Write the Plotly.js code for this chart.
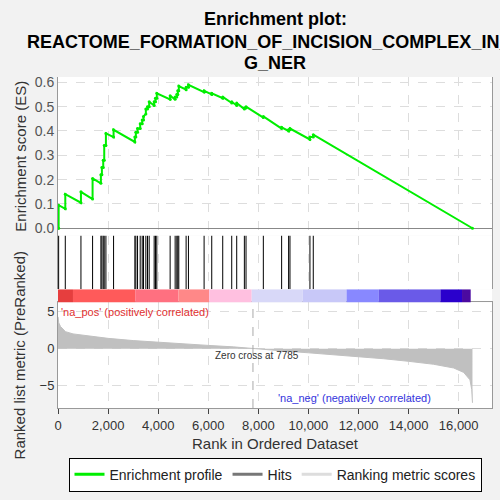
<!DOCTYPE html>
<html><head><script src="https://cdn.plot.ly/plotly-3.0.1.min.js"></script>
<style>body{margin:0;background:#f2f2f2}</style></head><body>
<div id="g" style="width:500px;height:500px"></div>
<script>
const hitRanks=[25,291,916,1381,1713,1753,1806,1846,1913,2219,3069,3109,3176,3282,3362,3415,3508,3574,3641,3840,3893,3946,4478,4678,4744,4784,4824,5116,5209,5834,6139,6578,6937,7136,7442,7508,8199,8930,9209,9263,10060,10193];
const esBefore=[0,0.08,0.105,0.12,0.185,0.22,0.25,0.28,0.34,0.375,0.355,0.375,0.395,0.41,0.43,0.445,0.47,0.49,0.5,0.505,0.52,0.535,0.53,0.53,0.54,0.55,0.565,0.57,0.58,0.56,0.55,0.535,0.515,0.505,0.49,0.495,0.455,0.41,0.4,0.405,0.365,0.375];
const esAfter=[0.095,0.14,0.15,0.205,0.22,0.25,0.28,0.34,0.39,0.405,0.375,0.395,0.41,0.43,0.445,0.46,0.49,0.5,0.52,0.52,0.535,0.555,0.545,0.54,0.55,0.565,0.585,0.58,0.59,0.565,0.555,0.54,0.52,0.515,0.495,0.5,0.46,0.415,0.405,0.41,0.375,0.385];
const nGenes=16550, zeroCross=7785;
const metricRank=[0,30,100,200,300,600,1000,2000,3000,4000,5000,6000,7000,7785,9000,10000,11000,12000,13000,14000,15000,15800,16200,16450,16520,16550];
const metricVal=[4.3,3.5,3.0,2.6,2.3,2.0,1.8,1.4,1.1,0.85,0.65,0.45,0.25,0,-0.3,-0.55,-0.8,-1.05,-1.35,-1.7,-2.1,-2.6,-3.2,-4.2,-5.5,-7.3];
const barEdges=[0,598,3083,4811,6034,7735,9768,11523,12812,15270,16133,16479,16550];
const barColors=['#e63e3e','#ff5a5a','#ff7080','#ff8888','#ffc0e0','#d8d8f8','#c8c8f8','#8888ff','#6a5ae8','#2a00cc','#4b0aa0'];
const titleLines=['Enrichment plot:','REACTOME_FORMATION_OF_INCISION_COMPLEX_IN_G','G_NER'];

const ex=[0],ey=[0];
hitRanks.forEach((r,i)=>{ex.push(r,r);ey.push(esBefore[i],esAfter[i]);});
ex.push(nGenes);ey.push(0);
const hx=[],hy=[];
hitRanks.forEach(r=>{hx.push(r,r,null);hy.push(0,1,null);});
const shapes=[];
for(let i=0;i<barColors.length;i++)shapes.push({type:'rect',xref:'x',yref:'y3',x0:barEdges[i],x1:barEdges[i+1],y0:0,y1:1,fillcolor:barColors[i],line:{width:0}});
shapes.push({type:'line',xref:'x',yref:'y4',x0:zeroCross,x1:zeroCross,y0:-8,y1:6.25,line:{color:'#aaa',width:1,dash:'dash'}});
const grid={showgrid:true,gridcolor:'#dddddd',griddash:'dash',zeroline:false,linecolor:'#999',showline:true,mirror:true};
const F='Liberation Sans, Arial, sans-serif';
const traces=[
{x:ex,y:ey,xaxis:'x',yaxis:'y',mode:'lines+markers',marker:{size:3,color:'#00ee00'},line:{color:'#00ee00',width:2},showlegend:false},
{x:[null],y:[null],mode:'lines',line:{color:'#00ee00',width:3},name:'Enrichment profile'},
{x:hx,y:hy,xaxis:'x',yaxis:'y2',mode:'lines',line:{color:'#000',width:1},showlegend:false},
{x:[null],y:[null],mode:'lines',line:{color:'#777',width:3},name:'Hits'},
{x:metricRank,y:metricVal,xaxis:'x',yaxis:'y4',mode:'lines',fill:'tozeroy',fillcolor:'#c0c0c0',line:{color:'#c0c0c0',width:1},showlegend:false},
{x:[null],y:[null],mode:'lines',line:{color:'#dddddd',width:3},name:'Ranking metric scores'}
];
const tf={family:F,size:15,color:'#333'};
const ty=[1.175,1.107,1.042];
const ann=titleLines.map((t,i)=>({xref:'paper',yref:'paper',x:0.5,y:ty[i],xanchor:'center',yanchor:'middle',text:'<b>'+t+'</b>',showarrow:false,font:{family:F,size:18,color:'#000'}}));
const layout={width:500,height:500,paper_bgcolor:'#f2f2f2',plot_bgcolor:'#fff',
margin:{l:58,r:8,t:77,b:69},
xaxis:Object.assign({},grid,{range:[0,17330],anchor:'y4',tickformat:',d',dtick:2000,ticks:'outside',tickfont:{family:F,size:13,color:'#333'},title:{text:'Rank in Ordered Dataset',font:tf,standoff:6}}),
yaxis:Object.assign({},grid,{domain:[0.521,1],range:[-0.03,0.622],dtick:0.1,tickformat:'.1f',tickfont:{family:F,size:14,color:'#555'},title:{text:'Enrichment score (ES)',font:tf,standoff:4},zeroline:true,zerolinecolor:'#888'}),
yaxis2:{domain:[0.359,0.521],range:[0,1],showticklabels:false,showgrid:false,zeroline:false,showline:true,mirror:true,linecolor:'#999'},
yaxis3:{domain:[0.319,0.359],range:[0,1],showticklabels:false,showgrid:false,zeroline:false},
yaxis4:Object.assign({},grid,{domain:[0,0.319],range:[-8,6.25],tickvals:[-5,0,5],tickfont:{family:F,size:13,color:'#333'},title:{text:'Ranked list metric (PreRanked)',font:tf,standoff:10}}),
shapes:shapes,
annotations:ann.concat([
{xref:'x',yref:'y4',x:50,y:6.1,xanchor:'left',yanchor:'top',text:"'na_pos' (positively correlated)",showarrow:false,font:{family:F,size:11,color:'#e03030'}},
{xref:'x',yref:'y4',x:8700,y:-6.6,xanchor:'left',yanchor:'middle',text:"'na_neg' (negatively correlated)",showarrow:false,font:{family:F,size:11,color:'#3333dd'}},
{xref:'x',yref:'y4',x:6200,y:-0.9,xanchor:'left',yanchor:'middle',text:'Zero cross at 7785',showarrow:false,font:{family:F,size:10,color:'#333'}}]),
legend:{orientation:'h',x:0.5,xanchor:'center',y:-0.15,yanchor:'top',bgcolor:'#fff',bordercolor:'#000',borderwidth:1,font:{family:F,size:14,color:'#222'}},
};
Plotly.newPlot('g',traces,layout,{displayModeBar:false});
</script></body></html>
